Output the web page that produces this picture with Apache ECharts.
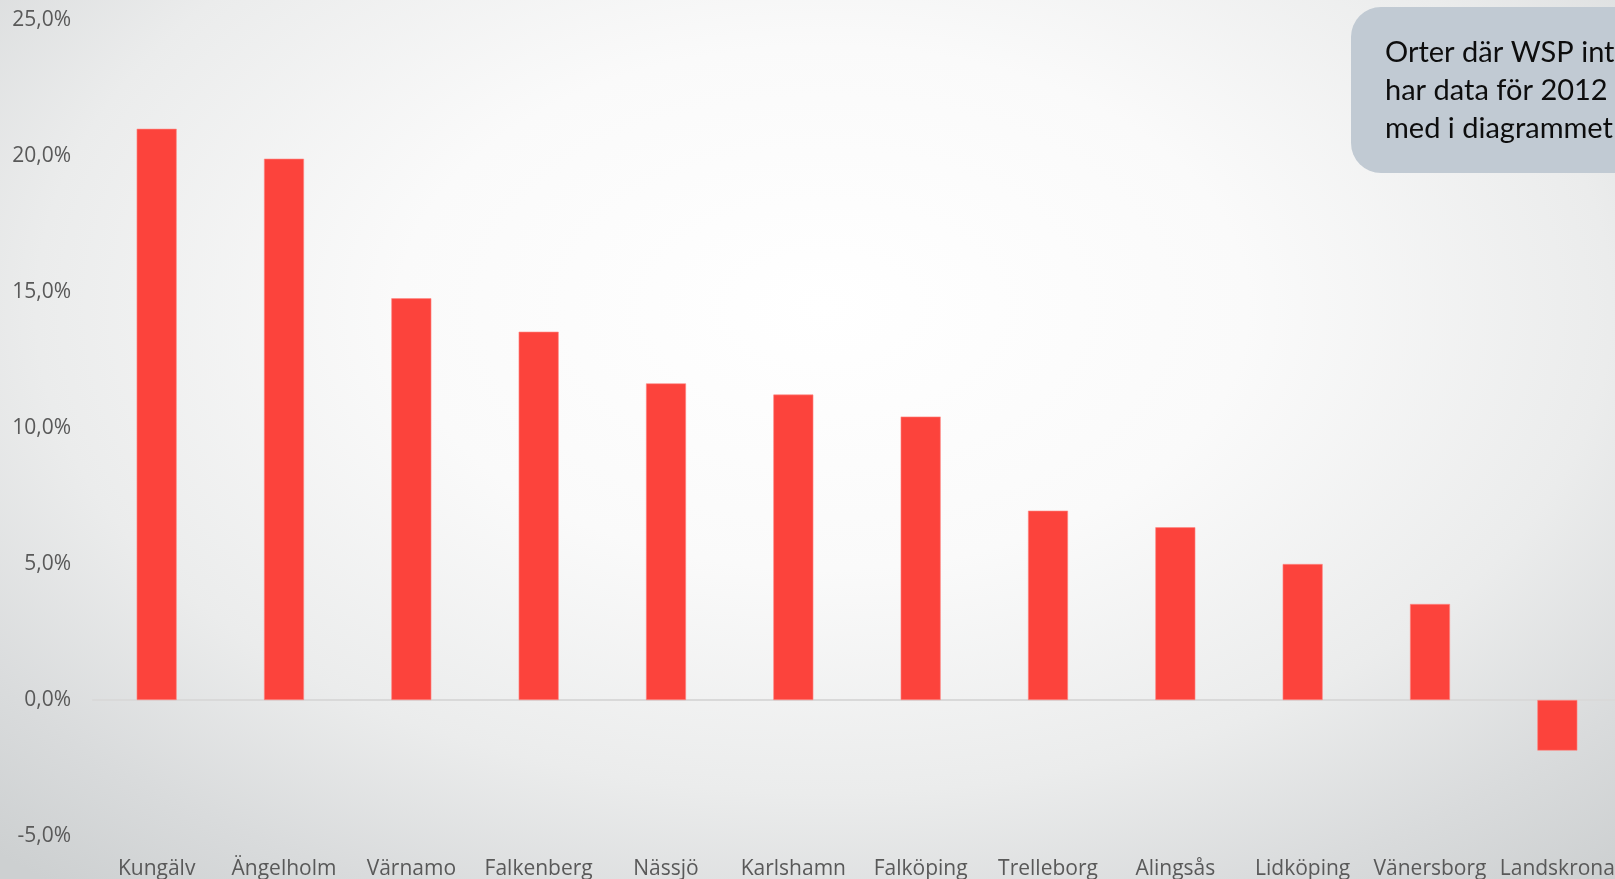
<!DOCTYPE html>
<html>
<head>
<meta charset="utf-8">
<script src="https://cdn.jsdelivr.net/npm/echarts@6/dist/echarts.min.js"></script>
<style>
  html, body { margin: 0; padding: 0; }
  body {
    width: 1615px; height: 879px; overflow: hidden;
    background: radial-gradient(ellipse 75% 85% at 51% 35%, #ffffff 0%, #fafafa 35%, #ebecec 65%, #d9dbdc 85%, #cdd0d1 100%);
  }
  #chart { width: 1615px; height: 879px; }
</style>
</head>
<body>
<div id="chart"></div>
<script>
const categories = ['Kungälv', 'Ängelholm', 'Värnamo', 'Falkenberg', 'Nässjö', 'Karlshamn', 'Falköping', 'Trelleborg', 'Alingsås', 'Lidköping', 'Vänersborg', 'Landskrona'];
const values = [21.0, 19.9, 14.77, 13.54, 11.64, 11.23, 10.42, 6.96, 6.35, 5.0, 3.53, -1.86];
const noteLines = ['Orter där WSP inte', 'har data för 2012', 'med i diagrammet'];

const chart = echarts.init(document.getElementById('chart'), null, { renderer: 'canvas' });
const labelFont = '"Open Sans", "Noto Sans", sans-serif';
chart.setOption({
  backgroundColor: 'transparent',
  animation: false,
  grid: { left: 93, width: 1528, top: 20, bottom: 43, containLabel: false, outerBoundsMode: 'none' },
  xAxis: {
    type: 'category',
    data: categories,
    axisLine: { show: true, onZero: true, lineStyle: { color: '#d9d9d9', width: 2 } },
    axisTick: { show: false },
    axisLabel: {
      show: true, interval: 0, margin: 23, hideOverlap: false,
      color: '#595959', fontSize: 21, fontFamily: labelFont
    },
    position: 'bottom'
  },
  yAxis: {
    type: 'value',
    min: -5, max: 25, interval: 5,
    splitLine: { show: false },
    axisLine: { show: false },
    axisTick: { show: false },
    axisLabel: {
      margin: 22, color: '#595959', fontSize: 21, fontFamily: labelFont,
      formatter: function (v) { return v.toFixed(1).replace('.', ',') + '%'; }
    }
  },
  series: [{
    type: 'bar',
    data: values,
    barWidth: 40,
    itemStyle: { color: '#fc433c', borderColor: '#ff8a85', borderWidth: 0.6 }
  }],
  graphic: [
    {
      type: 'rect',
      left: 1351, top: 7,
      shape: { width: 320, height: 166, r: 30 },
      style: { fill: '#c1cad3' }
    },
    {
      type: 'text',
      left: 1385, top: 34,
      style: {
        text: noteLines.join('\n'),
        font: '29px Lato, "Open Sans", sans-serif',
        lineHeight: 38,
        fill: '#0d0d0d'
      }
    }
  ]
});
</script>
</body>
</html>
